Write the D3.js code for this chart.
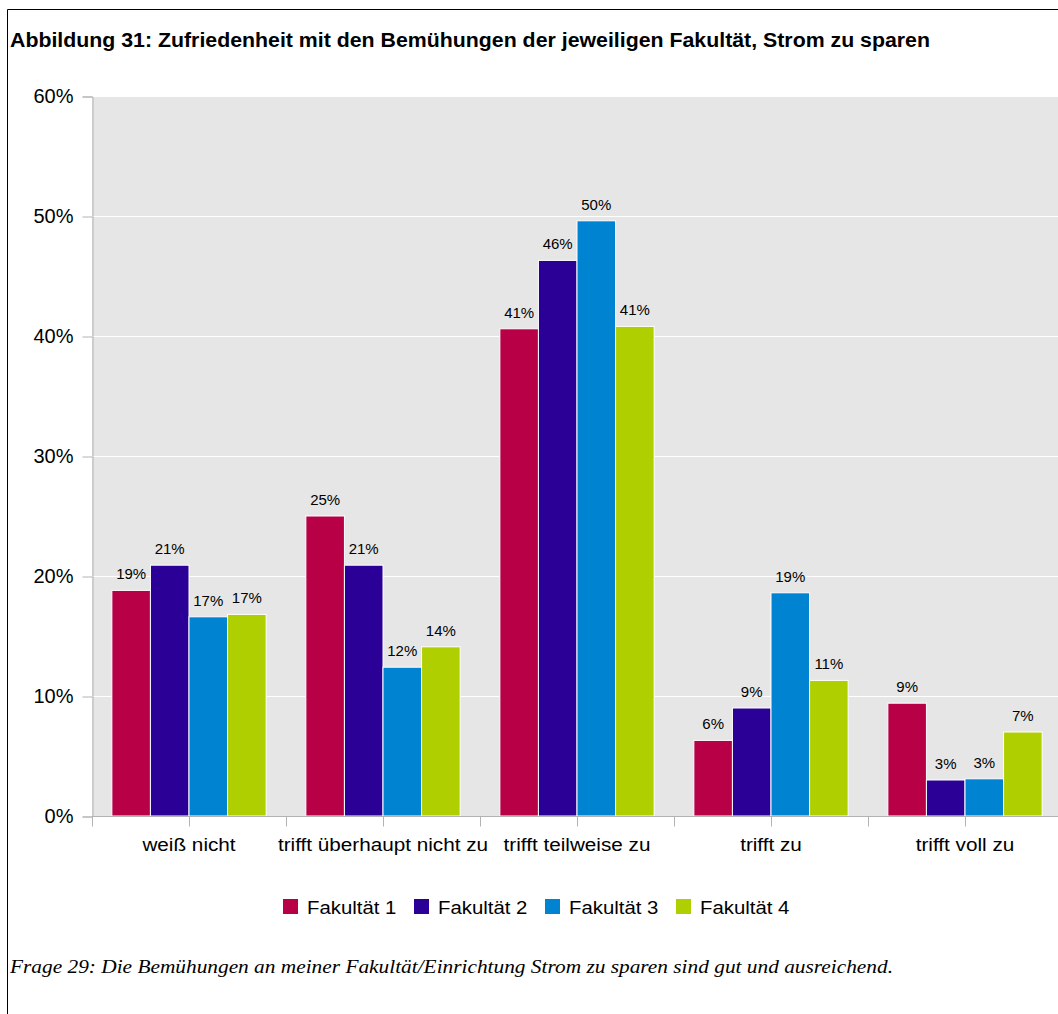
<!DOCTYPE html>
<html><head><meta charset="utf-8">
<script src="https://cdn.jsdelivr.net/npm/d3@7"></script>
<style>body{margin:0;background:#fff}svg{display:block}</style>
</head><body>
<script>
const categories = ["weiß nicht","trifft überhaupt nicht zu","trifft teilweise zu","trifft zu","trifft voll zu"];
const seriesNames = ["Fakultät 1","Fakultät 2","Fakultät 3","Fakultät 4"];
const fak1 = [18.8, 25.0, 40.6, 6.3, 9.4];
const fak2 = [20.9, 20.9, 46.3, 9.0, 3.0];
const fak3 = [16.6, 12.4, 49.6, 18.6, 3.1];
const fak4 = [16.8, 14.1, 40.8, 11.3, 7.0];
const yTicks = [0,10,20,30,40,50,60];
const colors = ["#b80047","#2a0096","#0084d1","#b0cf00"];
const title = "Abbildung 31: Zufriedenheit mit den Bemühungen der jeweiligen Fakultät, Strom zu sparen";
const footnote = "Frage 29: Die Bemühungen an meiner Fakultät/Einrichtung Strom zu sparen sind gut und ausreichend.";

const series = [fak1,fak2,fak3,fak4];
const W = 1058, H = 1014;
const svg = d3.select("body").append("svg").attr("width",W).attr("height",H);
const sans = "'Liberation Sans', Arial, sans-serif";

// frame
svg.append("path").attr("d",`M7.5,${H} V9.5 H${W}`).attr("fill","none").attr("stroke","#000").attr("stroke-width",1);

svg.append("text").attr("x",10).attr("y",47).text(title)
  .attr("font-family",sans).attr("font-weight","bold").attr("font-size",19.5).attr("fill","#000")
  .attr("textLength",920).attr("lengthAdjust","spacingAndGlyphs");

const L = 92, R = 1062, T = 96, B = 816;
const x0 = d3.scaleBand().domain(categories).range([L,R]).paddingInner(0).paddingOuter(0);
const x1 = d3.scaleBand().domain(d3.range(4)).range([0,x0.bandwidth()]).paddingOuter(0.515).paddingInner(0);
const y = d3.scaleLinear().domain([0,60]).range([B,T]);

svg.append("rect").attr("x",L).attr("y",T).attr("width",R-L).attr("height",B-T).attr("fill","#e6e6e6");

// grid
svg.append("g").selectAll("line").data(yTicks.filter(d=>d>0)).join("line")
  .attr("x1",L).attr("x2",R).attr("y1",d=>y(d)+0.5).attr("y2",d=>y(d)+0.5)
  .attr("stroke","#fff").attr("stroke-width",1);

// y axis
const yAxis = d3.axisLeft(y).tickValues(yTicks).tickFormat(d=>d+"%").tickSize(10).tickPadding(9);
const gy = svg.append("g").attr("transform",`translate(${L+0.5},0.5)`).call(yAxis);
gy.selectAll("path,line").attr("stroke","#b3b3b3");
gy.selectAll("text").attr("font-family",sans).attr("font-size",20).attr("fill","#000");

// bars
const groups = svg.append("g").selectAll("g").data(categories).join("g")
  .attr("transform",d=>`translate(${x0(d)},0)`);
groups.each(function(cat,ci){
  const g = d3.select(this);
  const vals = series.map((s,si)=>({si,v:s[ci]}));
  g.selectAll("rect").data(vals).join("rect")
    .attr("x",d=>x1(d.si)).attr("y",d=>y(d.v)).attr("width",x1.bandwidth()).attr("height",d=>B-y(d.v))
    .attr("fill",d=>colors[d.si]).attr("stroke","#fff").attr("stroke-width",1);
  g.selectAll("text").data(vals).join("text")
    .attr("x",d=>x1(d.si)+x1.bandwidth()/2).attr("y",d=>y(d.v)-11)
    .attr("text-anchor","middle").attr("font-family",sans).attr("font-size",15).attr("fill","#000")
    .text(d=>Math.round(d.v)+"%");
});

// x axis
const gx = svg.append("g").attr("transform",`translate(0,${B+0.5})`);
gx.append("line").attr("x1",L).attr("x2",R).attr("stroke","#b3b3b3");
const tickPos = [];
categories.forEach(c=>{tickPos.push(x0(c)); tickPos.push(x0(c)+x0.bandwidth()/2);});
gx.selectAll("line.t").data(tickPos).join("line").attr("class","t")
  .attr("x1",d=>Math.round(d)+0.5).attr("x2",d=>Math.round(d)+0.5).attr("y1",0).attr("y2",10).attr("stroke","#b3b3b3");
gx.selectAll("text").data(categories).join("text")
  .attr("transform",d=>`translate(${x0(d)+x0.bandwidth()/2},34) scale(1.12,1)`).attr("text-anchor","middle")
  .attr("font-family",sans).attr("font-size",18.5).attr("fill","#000").text(d=>d);

// legend
const leg = svg.append("g").selectAll("g").data(seriesNames).join("g")
  .attr("transform",(d,i)=>`translate(${283+i*131},899)`);
leg.append("rect").attr("width",15).attr("height",15).attr("fill",(d,i)=>colors[i]);
leg.append("text").attr("transform","translate(24,15) scale(1.1,1)").attr("font-family",sans).attr("font-size",18.5).attr("fill","#000").text(d=>d);

svg.append("text").attr("x",10).attr("y",973).text(footnote)
  .attr("font-family","'Liberation Serif', 'Times New Roman', serif").attr("font-style","italic").attr("font-size",19.5).attr("fill","#000")
  .attr("textLength",883).attr("lengthAdjust","spacingAndGlyphs");
</script>
</body></html>
